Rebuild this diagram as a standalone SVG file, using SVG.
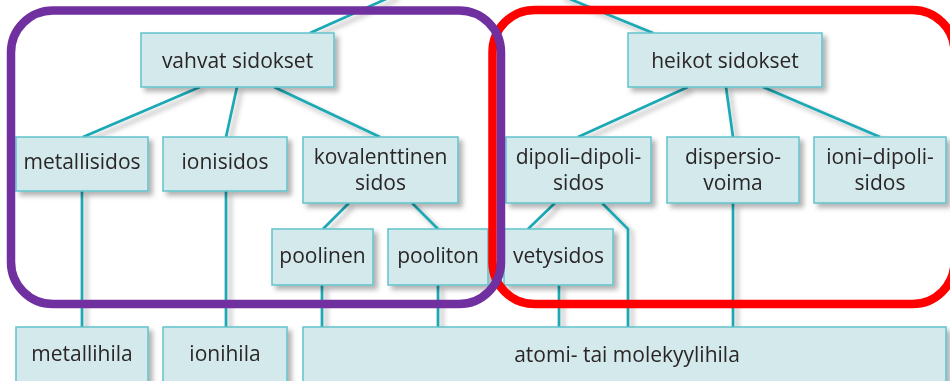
<svg xmlns="http://www.w3.org/2000/svg" width="950" height="381" viewBox="0 0 950 381">
<style>
.box{fill:#d3e9ec;stroke:#5fc3cb;stroke-width:1.5}
.t{font-family:"Open Sans","Noto Sans",sans-serif;font-size:21px;fill:#2a2627;text-anchor:middle}
.c line,.c polyline{stroke:#1aa9b5;stroke-width:2.7;fill:none}
</style>
<defs>
<filter id="sh" x="-20%" y="-20%" width="150%" height="150%">
<feDropShadow dx="4" dy="4" stdDeviation="2.5" flood-color="#000" flood-opacity="0.3"/>
</filter>
</defs>
<rect width="950" height="381" fill="#fff"/>
<g id="connectors" class="c" filter="url(#sh)">
<line x1="310" y1="33" x2="395" y2="-5"/>
<line x1="653" y1="33" x2="560" y2="-5"/>
<line x1="200" y1="87" x2="83" y2="137"/>
<line x1="237" y1="87" x2="226" y2="137"/>
<line x1="274" y1="87" x2="380" y2="137"/>
<line x1="688" y1="87" x2="578" y2="137"/>
<line x1="726" y1="87" x2="733" y2="137"/>
<line x1="763" y1="87" x2="880" y2="137"/>
<line x1="82" y1="191" x2="82" y2="327"/>
<line x1="226" y1="191" x2="226" y2="327"/>
<line x1="349" y1="203" x2="323" y2="229"/>
<line x1="412" y1="203" x2="438" y2="229"/>
<line x1="322" y1="285" x2="322" y2="327"/>
<line x1="438" y1="285" x2="438" y2="327"/>
<line x1="555" y1="203" x2="528" y2="229"/>
<polyline points="602,203 628,229 628,327"/>
<line x1="559" y1="285" x2="559" y2="327"/>
<line x1="733" y1="203" x2="733" y2="327"/>
</g>
<g filter="url(#sh)">
<g id="vahvat"><rect class="box" x="141" y="33" width="193" height="54"/><text class="t" x="237.5" y="67.5">vahvat sidokset</text></g>
<g id="heikot"><rect class="box" x="628" y="33" width="194" height="54"/><text class="t" x="725" y="67.5">heikot sidokset</text></g>
<g id="metallisidos"><rect class="box" x="16" y="137" width="132" height="54"/><text class="t" x="82" y="169">metallisidos</text></g>
<g id="ionisidos"><rect class="box" x="163" y="137" width="124" height="54"/><text class="t" x="225" y="169">ionisidos</text></g>
<g id="kovalenttinen"><rect class="box" x="303" y="137" width="155" height="66"/><text class="t" x="380.5" y="164">kovalenttinen</text><text class="t" x="380.5" y="190">sidos</text></g>
<g id="dipoli"><rect class="box" x="506" y="137" width="145" height="66"/><text class="t" x="578.5" y="164">dipoli–dipoli-</text><text class="t" x="578.5" y="190">sidos</text></g>
<g id="dispersio"><rect class="box" x="667" y="137" width="132" height="66"/><text class="t" x="733" y="164">dispersio-</text><text class="t" x="733" y="190">voima</text></g>
<g id="ionidipoli"><rect class="box" x="814" y="137" width="132" height="66"/><text class="t" x="880" y="164">ioni–dipoli-</text><text class="t" x="880" y="190">sidos</text></g>
<g id="poolinen"><rect class="box" x="272" y="229" width="101" height="56"/><text class="t" x="322.5" y="263">poolinen</text></g>
<g id="pooliton"><rect class="box" x="388" y="229" width="100" height="56"/><text class="t" x="438" y="263">pooliton</text></g>
<g id="vetysidos"><rect class="box" x="504" y="229" width="109" height="56"/><text class="t" x="558.5" y="263">vetysidos</text></g>
<g id="metallihila"><rect class="box" x="16" y="327" width="132" height="64"/><text class="t" x="82" y="361">metallihila</text></g>
<g id="ionihila"><rect class="box" x="163" y="327" width="124" height="64"/><text class="t" x="225" y="361">ionihila</text></g>
<g id="atomihila"><rect class="box" x="303" y="327" width="643" height="64"/><text class="t" x="627" y="362">atomi- tai molekyylihila</text></g>
</g>
<g id="groups" fill="none" stroke-width="8.5">
<rect x="492.5" y="10" width="462" height="294" rx="42" stroke="#ff0000"/>
<rect x="11" y="10.5" width="490" height="293.5" rx="42" stroke="#7030a0"/>
</g>
</svg>
